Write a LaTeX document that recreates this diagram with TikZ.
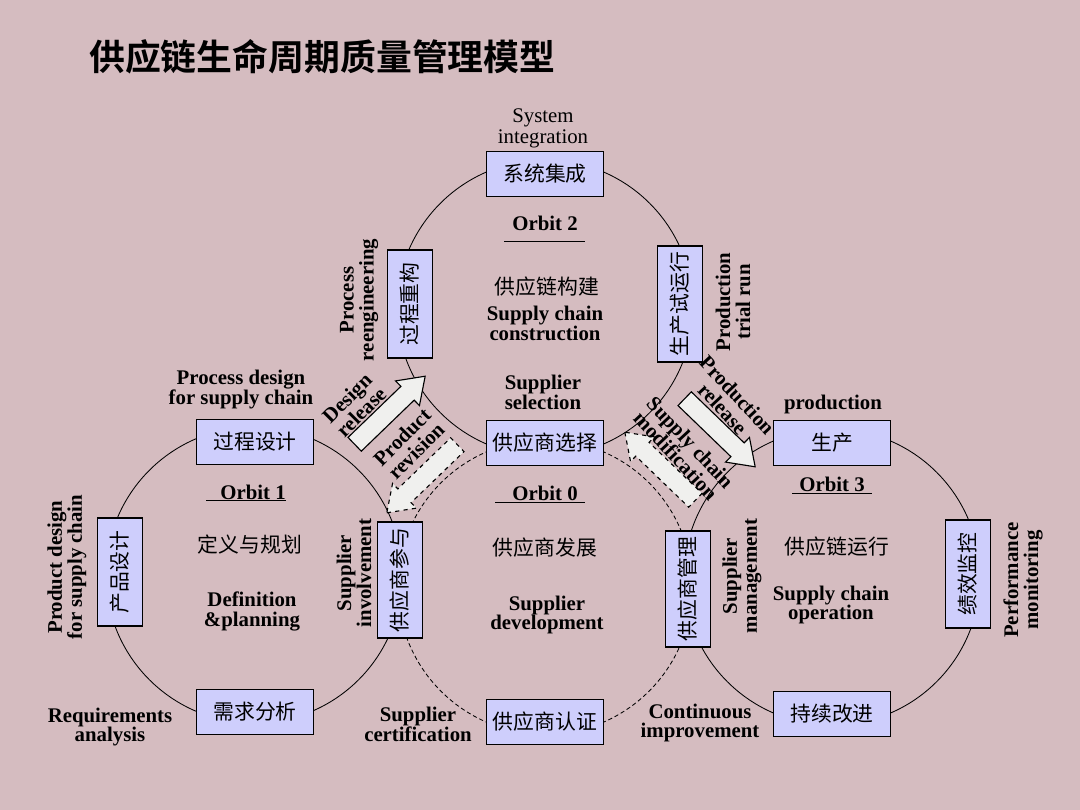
\documentclass[tikz,border=0pt]{standalone}
\usepackage{fontspec}
\setmainfont{Liberation Serif}
\newfontfamily\zh{Noto Sans CJK SC}[BoldFont={Noto Sans CJK SC Bold}]
\usetikzlibrary{shapes.arrows}
\definecolor{slide}{RGB}{213,188,192}
\definecolor{boxfill}{RGB}{206,206,252}
\definecolor{arrfill}{RGB}{240,240,238}
\begin{document}
\begin{tikzpicture}[x=0.025cm,y=-0.025cm,
  every node/.style={inner sep=0pt},
  hbox/.style={draw,line width=0.8pt,fill=boxfill,minimum width=2.92cm,minimum height=1.13cm,font=\zh\fontsize{14.8}{16}\selectfont},
  vbox/.style={hbox,rotate=90,minimum width=2.7cm,inner xsep=0.15cm},
  lbl/.style={align=center,font=\bfseries\fontsize{14.8}{14.2}\selectfont},
  zhlbl/.style={font=\zh\fontsize{14.8}{16}\selectfont},
  orbit/.style={line width=0.6pt},
  relarr/.style={draw,line width=0.8pt,fill=arrfill,single arrow,inner xsep=0pt,inner ysep=0.225cm,single arrow head extend=0.19cm,single arrow tip angle=70,minimum height=2.45cm},
  backarr/.style={relarr,dashed}]
\fill[slide] (0,0) rectangle (1080,810);
\node[anchor=west,font=\zh\bfseries\fontsize{25.5}{28}\selectfont] (title) at (89,57) {供应链生命周期质量管理模型};
% the four orbits
\draw[orbit] (254,575) circle (3.7cm);
\draw[orbit] (545,308) circle (3.7cm);
\draw[orbit] (832,577) circle (3.7cm);
\draw[orbit,dash pattern=on 3pt off 2pt] (545,587) circle (3.68cm);
% release / revision arrows
\node[relarr,rotate=44] (dr) at (385,415) {};
\node[backarr,rotate=224] (pr) at (427,474) {};
\node[relarr,rotate=-44] (prr) at (715,428) {};
\node[backarr,rotate=136] (scm) at (665,471) {};
% boxes
\node[hbox] (sys) at (545,174) {系统集成};
\node[hbox] (sel) at (545,443) {供应商选择};
\node[hbox] (pdes) at (255,442) {过程设计};
\node[hbox] (req) at (255,712) {需求分析};
\node[hbox] (cert) at (545,722) {供应商认证};
\node[hbox] (prod) at (832,443) {生产};
\node[hbox] (imp) at (832,714) {持续改进};
\node[vbox] (prd) at (120,572) {产品设计};
\node[vbox] (reng) at (410,304) {过程重构};
\node[vbox] (trial) at (680,304) {生产试运行};
\node[vbox] (inv) at (400,580) {供应商参与};
\node[vbox] (mgmt) at (688,589) {供应商管理};
\node[vbox] (perf) at (968,574) {绩效监控};
% orbit titles
\node[lbl] (o2) at (545,223) {Orbit 2};
\draw (504,241) -- (585,241);
\node[lbl] (o1) at (253,492) {Orbit 1};
\draw (206,500) -- (286,500);
\node[lbl] (o0) at (545,493) {Orbit 0};
\draw (495,502) -- (585,502);
\node[lbl] (o3) at (832,484) {Orbit 3};
\draw (792,493) -- (872,493);
% labels
\node[lbl,font=\fontsize{14.8}{15}\selectfont] (sysl) at (543,128) {System\\integration};
\node[zhlbl] (c2) at (547,287) {供应链构建};
\node[lbl] (c2e) at (545,323) {Supply chain\\construction};
\node[lbl] (sell) at (543,392) {Supplier\\selection};
\node[lbl,rotate=90] (rengl) at (359,300) {Process\\reengineering};
\node[lbl,rotate=90] (triall) at (733,302) {Production\\trial run};
\node[lbl] (pdesl) at (241,390) {Process design\\for supply chain};
\node[lbl,rotate=90] (prdl) at (67,567) {Product design\\for supply chain};
\node[zhlbl] (c1) at (250,545) {定义与规划};
\node[lbl] (c1e) at (252,611) {Definition\\\&planning};
\node[lbl,rotate=90] (invl) at (354,573) {Supplier\\involvement};
\node[lbl] (reql) at (110,727) {Requirements\\analysis};
\node[lbl] (certl) at (418,724) {Supplier\\certification};
\node[zhlbl] (c0) at (545,548) {供应商发展};
\node[lbl] (c0e) at (547,615) {Supplier\\development};
\node[lbl] (prodl) at (833,404) {production};
\node[zhlbl] (c3) at (837,547) {供应链运行};
\node[lbl] (c3e) at (831,605) {Supply chain\\operation};
\node[lbl,rotate=90] (mgmtl) at (742,576) {Supplier\\management};
\node[lbl,rotate=90] (perfl) at (1023,580) {Performance\\monitoring};
\node[lbl] (impl) at (700,723) {Continuous\\improvement};
\node[lbl,rotate=45] (drl) at (354,405) {Design\\release};
\node[lbl,rotate=45] (prl) at (409,444) {Product\\revision};
\node[lbl,rotate=-47] (prrl) at (730,402) {Production\\release};
\node[lbl,rotate=-47] (scml) at (683,449) {Supply chain\\modification};
\end{tikzpicture}
\end{document}
